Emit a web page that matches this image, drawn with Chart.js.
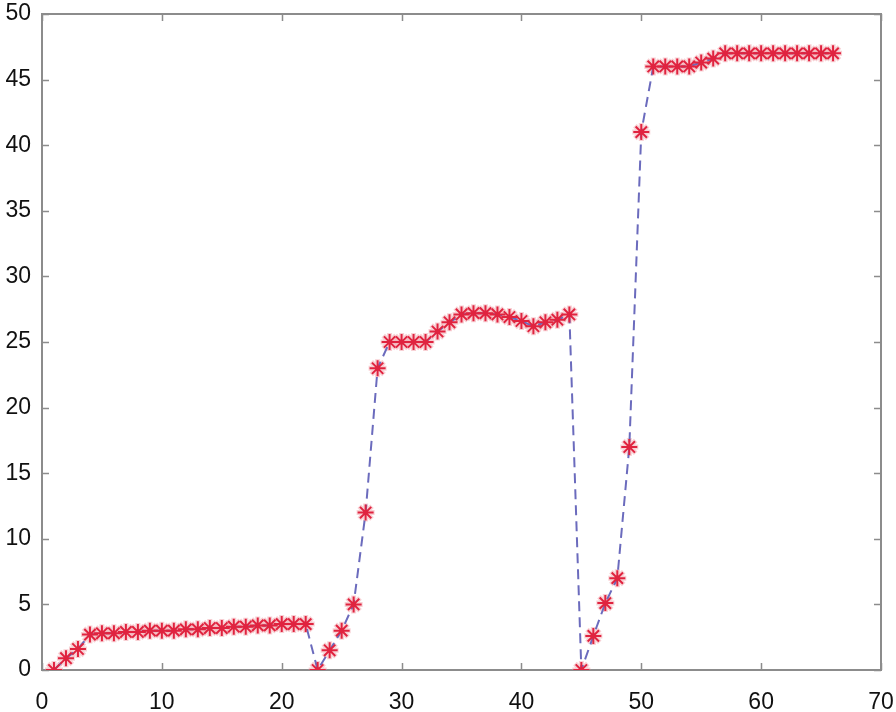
<!DOCTYPE html>
<html>
<head>
<meta charset="utf-8">
<script src="https://cdn.jsdelivr.net/npm/chart.js@4/dist/chart.umd.min.js"></script>
<style>
  html, body { margin: 0; padding: 0; background: #ffffff; }
  #wrap { width: 896px; height: 712px; position: relative; }
</style>
</head>
<body>
<div id="wrap"><canvas id="c" width="896" height="712"></canvas></div>
<script>
// ---- data ----
const xValues = [
  1, 2, 3, 4, 5, 6, 7, 8, 9, 10, 11, 12, 13, 14, 15, 16, 17, 18, 19, 20, 21, 22,
  23, 24, 25, 26, 27, 28, 29, 30, 31, 32, 33, 34, 35, 36, 37, 38, 39, 40, 41, 42, 43, 44,
  45, 46, 47, 48, 49, 50, 51, 52, 53, 54, 55, 56, 57, 58, 59, 60, 61, 62, 63, 64, 65, 66
];
const yValues = [
  0, 0.9, 1.6, 2.7, 2.8, 2.8, 2.9, 2.9, 3.0, 3.0, 3.0, 3.1, 3.1, 3.2, 3.2, 3.3, 3.3, 3.4, 3.4, 3.5, 3.5, 3.5,
  0, 1.5, 3.0, 5.0, 12.0, 23.0, 25.0, 25.0, 25.0, 25.0, 25.8, 26.5, 27.1, 27.2, 27.2, 27.1, 26.9, 26.6, 26.2, 26.5, 26.7, 27.1,
  0, 2.6, 5.1, 7.0, 17.0, 41.0, 46.0, 46.0, 46.0, 46.0, 46.3, 46.6, 47.0, 47.0, 47.0, 47.0, 47.0, 47.0, 47.0, 47.0, 47.0, 47.0
];
const xTicks = [0, 10, 20, 30, 40, 50, 60, 70];
const yTicks = [0, 5, 10, 15, 20, 25, 30, 35, 40, 45, 50];

const points = xValues.map((x, i) => ({ x: x, y: yValues[i] }));

// box + inward tick marks (MATLAB style)
const boxPlugin = {
  id: 'box',
  beforeDatasetsDraw(chart) {
    const { ctx, chartArea: a, scales } = chart;
    ctx.save();
    ctx.strokeStyle = '#8c8c8c';
    ctx.lineWidth = 2;
    ctx.strokeRect(a.left, a.top, a.right - a.left, a.bottom - a.top);
    ctx.lineWidth = 1.5;
    const len = 7;
    ctx.beginPath();
    xTicks.forEach(v => {
      const px = Math.round(scales.x.getPixelForValue(v)) + 0.5;
      ctx.moveTo(px, a.bottom); ctx.lineTo(px, a.bottom - len);
      ctx.moveTo(px, a.top); ctx.lineTo(px, a.top + len);
    });
    yTicks.forEach(v => {
      const py = Math.round(scales.y.getPixelForValue(v)) + 0.5;
      ctx.moveTo(a.left, py); ctx.lineTo(a.left + len, py);
      ctx.moveTo(a.right, py); ctx.lineTo(a.right - len, py);
    });
    ctx.stroke();
    ctx.restore();
  }
};

const tickFont = { family: "'Liberation Sans', Arial, sans-serif", size: 23, lineHeight: 0.9 };

new Chart(document.getElementById('c'), {
  type: 'scatter',
  data: {
    datasets: [
      {
        label: 'markers',
        data: points,
        showLine: false,
        pointStyle: 'star',
        pointRadius: 8,
        pointBorderWidth: 2,
        pointBorderColor: '#e0233f',
        pointBackgroundColor: '#e0233f',
        order: 1
      },
      {
        label: 'halo',
        data: points,
        showLine: false,
        pointStyle: 'star',
        pointRadius: 9,
        pointBorderWidth: 5,
        pointBorderColor: 'rgba(240,150,160,0.45)',
        pointBackgroundColor: 'rgba(240,150,160,0.45)',
        order: 3
      },
      {
        label: 'line',
        data: points,
        showLine: true,
        borderColor: '#6b6bbd',
        borderWidth: 2,
        borderDash: [10, 6],
        pointRadius: 0,
        tension: 0,
        order: 2
      }
    ]
  },
  options: {
    responsive: false,
    animation: false,
    layout: { padding: { left: 0, top: 11, right: 15, bottom: 0 } },
    plugins: { legend: { display: false }, tooltip: { enabled: false } },
    scales: {
      x: {
        type: 'linear',
        min: 0, max: 70,
        afterBuildTicks: s => { s.ticks = xTicks.map(v => ({ value: v })); },
        afterFit: s => { s.height = 42; s.paddingLeft = 0; s.paddingRight = 0; },
        grid: { display: false, drawTicks: false },
        border: { display: false },
        ticks: { font: tickFont, color: '#111', padding: 22, maxRotation: 0 }
      },
      y: {
        type: 'linear',
        min: 0, max: 50,
        afterBuildTicks: s => { s.ticks = yTicks.map(v => ({ value: v })); },
        afterFit: s => { s.width = 42; s.paddingTop = 0; s.paddingBottom = 0; },
        grid: { display: false, drawTicks: false },
        border: { display: false },
        ticks: { font: tickFont, color: '#111', padding: 11 }
      }
    }
  },
  plugins: [boxPlugin]
});
</script>
</body>
</html>
